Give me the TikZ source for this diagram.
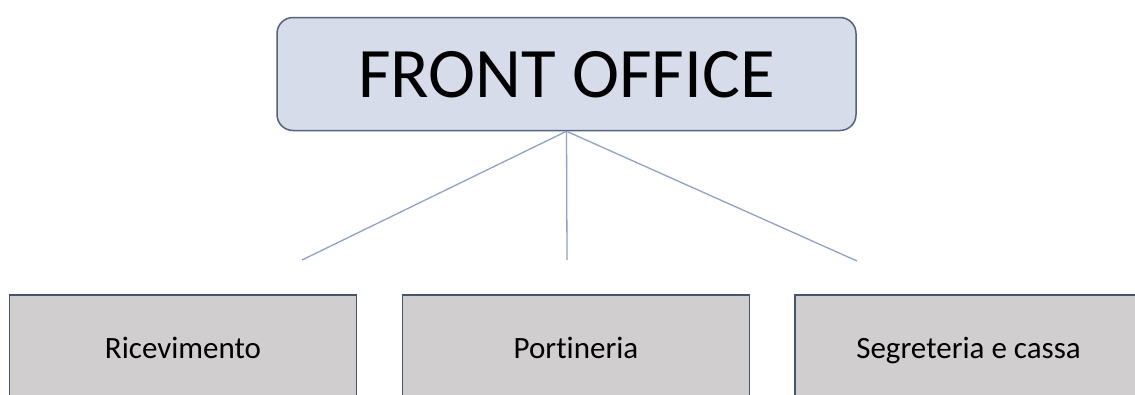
\documentclass[tikz,border=0pt]{standalone}
\usepackage{fontspec}
\setmainfont{Carlito}[Ligatures={NoCommon}]
\definecolor{headfill}{RGB}{214,220,233}
\definecolor{headline}{RGB}{84,98,122}
\definecolor{unitfill}{RGB}{208,206,206}
\definecolor{unitline}{RGB}{68,84,106}
\definecolor{linkcol}{RGB}{140,162,198}
\begin{document}
\begin{tikzpicture}[
    x=1pt, y=-1pt,
    head/.style={rectangle, rounded corners=16pt, draw=headline, line width=1.5pt, fill=headfill, minimum width=579pt, minimum height=113pt, font=\fontsize{71}{80}\selectfont, text height=46pt, text depth=0pt},
    unit/.style={rectangle, draw=unitline, line width=1.8pt, fill=unitfill, minimum width=347pt, minimum height=106pt, font=\fontsize{31}{36}\selectfont, text height=20pt, text depth=0pt},
    link/.style={draw=linkcol, line width=1.3pt},
]
\useasboundingbox (0,0) rectangle (1135,394);

\node[head] (office) at (566.5,74) {FRONT OFFICE};

\node[unit] (ricev) at (183,348) {Ricevimento};
\node[unit] (porti) at (576,348) {Portineria};
\node[unit] (segre) at (968.5,348) {Segreteria e cassa};

\coordinate (endricev) at (302,260);
\coordinate (endporti) at (567,260);
\coordinate (endsegre) at (857,261);

\draw[link] (office.south) -- (endricev);
\draw[link] (office.south) -- (endporti);
\draw[link] (office.south) -- (endsegre);

\end{tikzpicture}
\end{document}
